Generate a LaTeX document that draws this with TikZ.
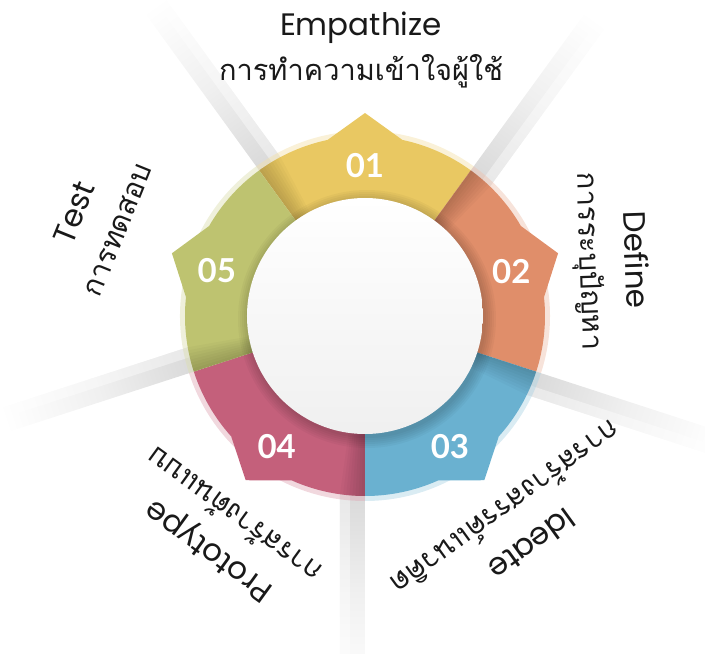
\documentclass[tikz,border=0pt]{standalone}
\usepackage{fontspec}
\setmainfont{Loma}[Script=Thai]
\newfontfamily\latinfont{Poppins}
\newfontfamily\numfont{Lato}

\definecolor{stepone}{HTML}{E9C862}
\definecolor{steptwo}{HTML}{E08E6A}
\definecolor{stepthree}{HTML}{6AB1D0}
\definecolor{stepfour}{HTML}{C4607B}
\definecolor{stepfive}{HTML}{BEC370}

\tikzset{
  ray/.style={left color=gray!30, right color=white, middle color=gray!12},
  num/.style={text=white, font=\numfont\bfseries\fontsize{33}{33}\selectfont},
  steplabel/.style={align=center, text=black!90, font=\fontsize{29}{45}\selectfont}
}
\newcommand{\en}[1]{{\latinfont\fontsize{31}{45}\selectfont #1}}

\begin{document}
\begin{tikzpicture}[x=1pt,y=1pt]
\useasboundingbox (-365,-338) rectangle (340,316);

\foreach \b in {126,54,-18,-90,-162}{
  \begin{scope}[transform canvas={rotate=\b}]
    \shade[ray] (176,0) rectangle (376,-25);
    \fill[white, opacity=.4] (176,-15) rectangle (376,-25);
  \end{scope}
}

\foreach \a/\c in {90/stepone,18/steptwo,-54/stepthree,-126/stepfour,-198/stepfive}{
  \fill[\c!55, opacity=.45] (\a-36:176) arc[start angle=\a-36, end angle=\a+36, radius=176]
    -- (\a+36:185) arc[start angle=\a+36, end angle=\a-36, radius=185] -- cycle;
  \fill[\c] (\a-36:105) -- (\a-36:180) arc[start angle=\a-36, end angle=\a-12, radius=180]
    -- (\a:203) -- (\a+12:180) arc[start angle=\a+12, end angle=\a+36, radius=180]
    -- (\a+36:105) arc[start angle=\a+36, end angle=\a-36, radius=105] -- cycle;
  \foreach \k in {1,...,8}
    \fill[black, opacity=.025] (\a+36-\k:105) -- (\a+36-\k:180)
      arc[start angle=\a+36-\k, end angle=\a+36, radius=180] -- (\a+36:105) -- cycle;
}

\foreach \r in {119,121,...,129}
  \fill[black, opacity=.03] (2,-3) circle[radius=\r];
\shade[top color=white, bottom color=gray!12] (0,0) circle[radius=118];

\foreach \a/\t/\r in {90/01/150,17/02/153,-57/03/156,-124/04/158,163/05/155}
  \node[num] (n\t) at (\a:\r) {\t};

\node[steplabel] (empathize) at (-4,266) {\en{Empathize}\\การทำความเข้าใจผู้ใช้};
\node[steplabel, rotate=-88] (define) at (12.7:252) {\en{Define}\\การระบุปัญหา};
\node[steplabel, rotate=-144] (ideate) at (-53.8:261) {\en{Ideate}\\การสร้างสรรค์แนวคิด};
\node[steplabel, rotate=144] (prototype) at (-123.4:261) {\en{Prototype}\\การสร้างต้นแบบ};
\node[steplabel, rotate=68] (test) at (160.6:286) {\en{Test}\\การทดสอบ};
\end{tikzpicture}
\end{document}
